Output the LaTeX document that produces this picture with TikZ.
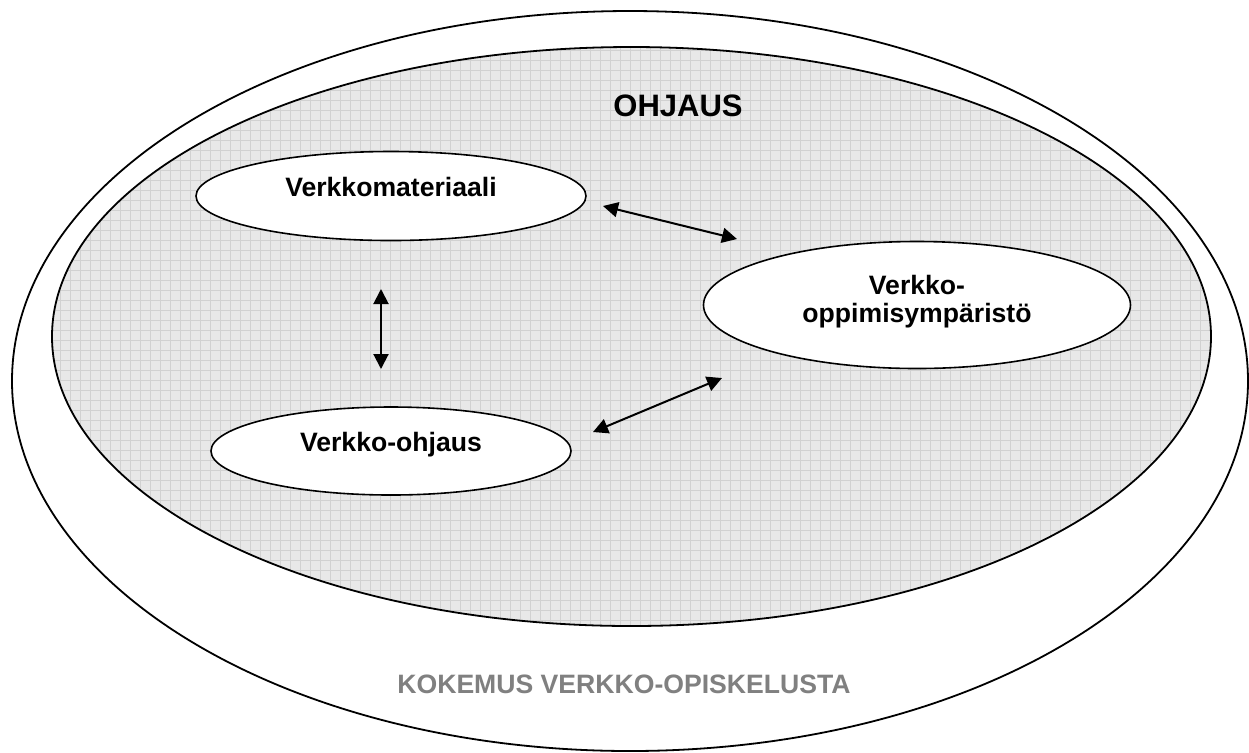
\documentclass[tikz,border=0pt]{standalone}
\usepackage{fontspec}
\setmainfont{Liberation Sans}
\usetikzlibrary{arrows.meta, positioning, shapes.geometric}

\begin{document}
\begin{tikzpicture}[x=0.5pt, y=-0.5pt, font=\fontsize{13.3pt}{13.3pt}\selectfont\bfseries,
    bubble/.style={ellipse, draw, line width=0.8pt, fill=white, inner sep=0pt},
    oneline/.style={text height=0.6em, text depth=0.6em},
    link/.style={line width=1pt, {Triangle[length=7.5pt,width=7.5pt]}-{Triangle[length=7.5pt,width=7.5pt]}}]
    \useasboundingbox (0,0) rectangle (1249,752);
    % kokemus verkko-opiskelusta
    \draw[line width=0.9pt, fill=white] (630,381) ellipse [x radius=618, y radius=370];
    % ohjaus
    \fill[black!9] (631.5,336.5) ellipse [x radius=579.5, y radius=289.5];
    \begin{scope}
        \clip (631.5,336.5) ellipse [x radius=579.5, y radius=289.5];
        \draw[black!18, line width=0.3pt, step=5pt] (0,0) grid (1249,752);
    \end{scope}
    \draw[line width=0.9pt] (631.5,336.5) ellipse [x radius=579.5, y radius=289.5];

    \node (ohjaus) at (678,106) {\fontsize{15.5pt}{15.5pt}\selectfont OHJAUS};
    \node[text=black!50] (kokemus) at (624,684) {KOKEMUS VERKKO-OPISKELUSTA};

    \node[bubble, oneline, minimum width=195pt, minimum height=44.5pt] (materiaali) at (391,196) {Verkkomateriaali};
    \node[bubble, oneline, minimum width=180pt, minimum height=44pt] (ohjausverkko) at (391,451) {Verkko-ohjaus};
    \node[bubble, align=center, minimum width=213.5pt, minimum height=63.5pt, text depth=6pt] (ymparisto) at (917,305)
        {Verkko-\\[0.7pt]oppimisympäristö};

    \coordinate (matR) at (603,206);
    \coordinate (ympTop) at (737,239);
    \coordinate (matBot) at (381,289);
    \coordinate (ohjTop) at (381,369);
    \coordinate (ohjR) at (593,432);
    \coordinate (ympBot) at (722,378);
    \draw[link] (matR) -- (ympTop);
    \draw[link] (matBot) -- (ohjTop);
    \draw[link] (ohjR) -- (ympBot);
\end{tikzpicture}
\end{document}
